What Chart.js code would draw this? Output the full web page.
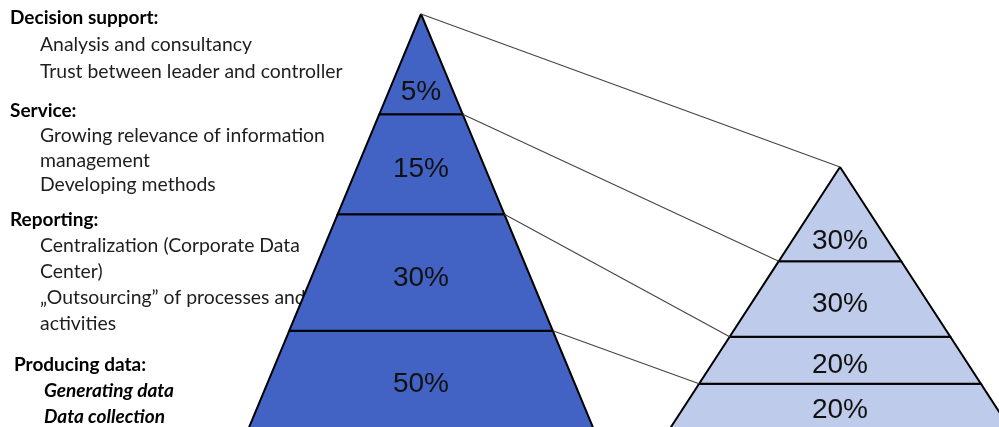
<!DOCTYPE html>
<html>
<head>
<meta charset="utf-8">
<style>
  html, body { margin: 0; padding: 0; background: #fff; }
  #wrap { width: 999px; height: 427px; position: relative; }
</style>
</head>
<body>
<div id="wrap"><canvas id="pyramids"></canvas></div>

<script src="https://cdn.jsdelivr.net/npm/chart.js"></script>
<script>
// share of controlling effort per level, top level first
let todayShares = [5, 15, 30, 50];
let futureShares = [30, 30, 20, 20];

let levelTitles = ['Decision support:', 'Service:', 'Reporting:', 'Producing data:'];
let levelNotes = [
  ['Analysis and consultancy', 'Trust between leader and controller'],
  ['Growing relevance of information', 'management', 'Developing methods'],
  ['Centralization (Corporate Data', 'Center)', '\u201EOutsourcing\u201D of processes and', 'activities'],
  ['Generating data', 'Data collection']
];

// drawing space is the canvas itself: 999 x 427, y grows downwards
let W = 999, H = 427;

// depth of a cut = depth * (cumulative share) ^ power
let pyramids = [
  { shares: todayShares, apexX: 421, apexY: 14, spread: 0.416, depth: 448, power: 0.5, fill: '#4263c4' },
  { shares: futureShares, apexX: 840, apexY: 167, spread: 0.65, depth: 262, power: 0.85, fill: '#bfcbeb' }
];

function cuts(p) {
  let total = p.shares.reduce((a, b) => a + b, 0);
  let run = 0;
  let out = [0];
  p.shares.forEach(v => {
    run += v;
    out.push(p.depth * Math.pow(run / total, p.power));
  });
  return out;
}

let datasets = [];

pyramids.forEach(p => {
  p.cuts = cuts(p);
  p.shares.forEach((v, i) => {
    let a = p.cuts[i], b = p.cuts[i + 1];
    let ya = p.apexY + a, yb = p.apexY + b;
    datasets.push({
      data: [
        { x: p.apexX - p.spread * a, y: ya },
        { x: p.apexX + p.spread * a, y: ya },
        { x: p.apexX + p.spread * b, y: yb },
        { x: p.apexX - p.spread * b, y: yb },
        { x: p.apexX - p.spread * a, y: ya }
      ],
      showLine: true,
      fill: 'shape',
      backgroundColor: p.fill,
      borderColor: '#000',
      borderWidth: 2,
      borderJoinStyle: 'miter',
      pointRadius: 0,
      tension: 0
    });
  });
});

// thin lines joining the level borders of both pyramids
let left = pyramids[0], right = pyramids[1];
for (let k = 0; k < left.shares.length; k++) {
  let a = left.cuts[k], b = right.cuts[k];
  datasets.unshift({
    data: [
      { x: left.apexX + left.spread * a, y: left.apexY + a },
      { x: right.apexX - right.spread * b, y: right.apexY + b }
    ],
    showLine: true,
    fill: false,
    borderColor: '#444',
    borderWidth: 1.1,
    pointRadius: 0,
    tension: 0
  });
}

let notesPlugin = {
  id: 'levelNotes',
  beforeDatasetsDraw(chart) {
    let ctx = chart.ctx;
    let xs = chart.scales.x, ys = chart.scales.y;
    let top = [18, 111, 220, 365];
    let gap = [27, 24.7, 26, 26];
    let titleX = [10, 10, 10, 14];
    let noteX = [40, 40, 40, 44];
    ctx.save();
    ctx.textBaseline = 'middle';
    levelTitles.forEach((t, i) => {
      ctx.font = 'bold 19px Lato';
      ctx.fillStyle = '#000';
      ctx.fillText(t, xs.getPixelForValue(titleX[i]), ys.getPixelForValue(top[i]));
      levelNotes[i].forEach((n, j) => {
        if (i === 3) {
          ctx.font = 'italic bold 19px Lato';
          ctx.fillStyle = '#000';
        } else {
          ctx.font = '19.4px Lato';
          ctx.fillStyle = '#1e1e1e';
        }
        ctx.fillText(n, xs.getPixelForValue(noteX[i]), ys.getPixelForValue(top[i] + gap[i] * (j + 1)));
      });
    });
    ctx.restore();
  }
};

let shareLabels = {
  id: 'shareLabels',
  afterDatasetsDraw(chart) {
    let ctx = chart.ctx;
    let xs = chart.scales.x, ys = chart.scales.y;
    let size = 28;
    ctx.save();
    ctx.font = size + 'px "Liberation Sans", Arial';
    ctx.fillStyle = '#111';
    ctx.textAlign = 'center';
    ctx.textBaseline = 'alphabetic';
    pyramids.forEach(p => {
      p.shares.forEach((v, i) => {
        let ya = p.apexY + p.cuts[i];
        let yb = p.apexY + p.cuts[i + 1];
        let y = i === 0 ? p.apexY + 0.73 * p.cuts[1] : (ya + Math.min(yb, H)) / 2;
        // baseline sits so the digits are centred a little below the band middle
        ctx.fillText(v + '%', xs.getPixelForValue(p.apexX), ys.getPixelForValue(y + 3) + 0.358 * size);
      });
    });
    ctx.restore();
  }
};

new Chart(document.getElementById('pyramids'), {
  type: 'scatter',
  data: { datasets: datasets },
  options: {
    responsive: true,
    maintainAspectRatio: false,
    animation: false,
    events: [],
    layout: { padding: 0 },
    plugins: { legend: { display: false }, tooltip: { enabled: false } },
    scales: {
      x: { type: 'linear', min: 0, max: W, display: false },
      y: { type: 'linear', min: 0, max: H, reverse: true, display: false }
    }
  },
  plugins: [notesPlugin, shareLabels]
});
</script>
</body>
</html>
